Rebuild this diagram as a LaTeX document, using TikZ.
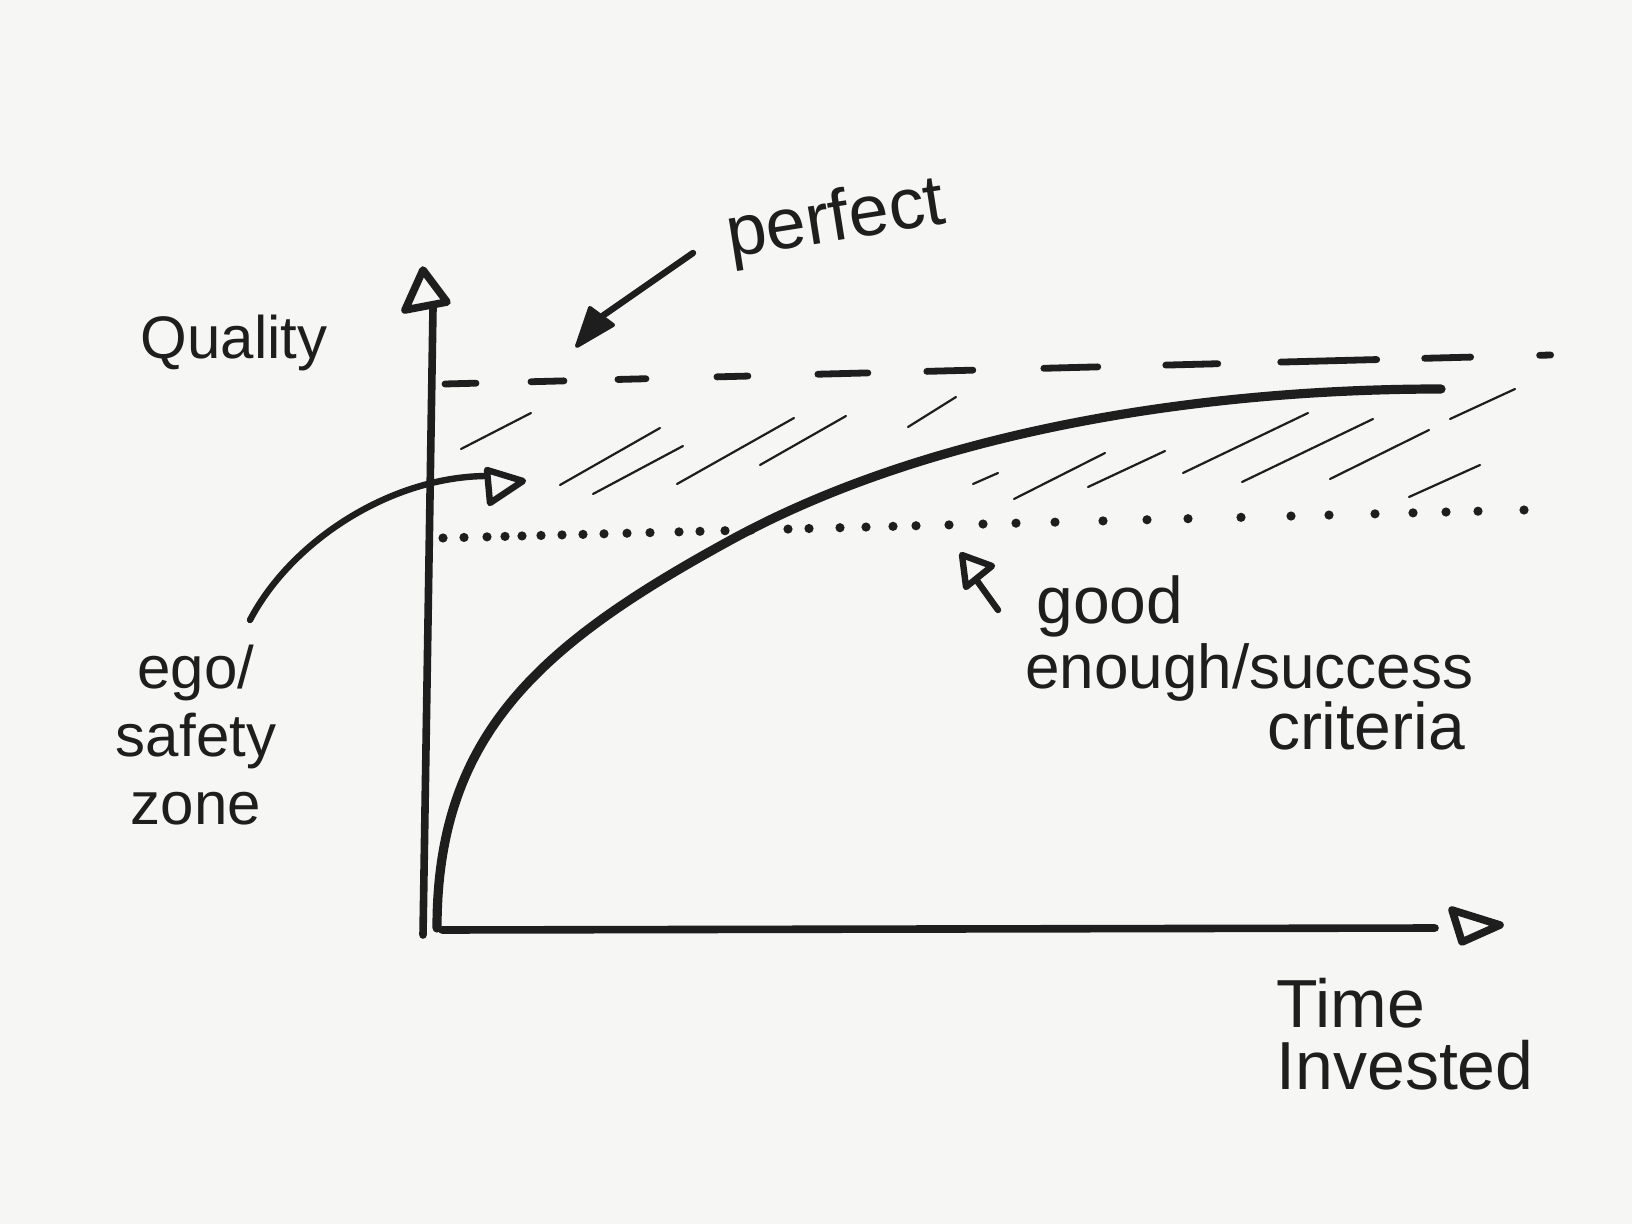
\documentclass[tikz,border=0pt]{standalone}
\usepackage{fontspec}
\setmainfont{Liberation Sans}
\usetikzlibrary{arrows.meta}
\definecolor{paper}{RGB}{246,246,245}
\definecolor{ink}{RGB}{30,30,30}
\tikzset{
  inkline/.style={draw=ink, line cap=round, line join=round},
  axisline/.style={inkline, line width=3.8pt},
  curveline/.style={inkline, line width=4.6pt},
  hatchline/.style={inkline, line width=1.1pt},
  dashline/.style={inkline, line width=3.4pt},
  arrowline/.style={inkline, line width=3.2pt},
  openhead/.style={inkline, line width=3.2pt, fill=paper},
  hand/.style={text=ink, inner sep=0pt},
}
\begin{document}
\begin{tikzpicture}[x=0.5pt, y=-0.5pt]
\useasboundingbox (0,0) rectangle (1632,1224);
\fill[paper] (0,0) rectangle (1632,1224);

% axes
\coordinate (ybot) at (423,935);
\coordinate (ytop) at (433,308);
\coordinate (xleft) at (442,930);
\coordinate (xright) at (1435,928);
\draw[axisline] (ybot) -- (ytop);
\draw[openhead, line width=3.8pt] (423,270) -- (447,302) -- (405,310) -- cycle;
\draw[axisline] (xleft) -- (xright);
\draw[openhead, line width=3.8pt] (1452,910) -- (1500,925) -- (1462,942) -- cycle;

% perfect line (dashed)
\draw[dashline, dash pattern=on 15.5pt off 27.5pt on 16.5pt off 27pt on 14pt off 35.5pt on 15.5pt off 35pt on 25pt off 29.5pt on 23pt off 35.5pt on 27pt off 34pt on 26pt off 31.5pt on 48pt off 24pt on 23pt off 34.5pt on 5.5pt off 100pt]
  (445,384) -- (1551,355);

% hatching
\foreach \a/\b/\c/\d in {461/449/531/413, 560/485/660/428, 593/494/683/446, 677/484/794/418,
  760/465/846/416, 908/427/956/397, 973/484/998/473, 1014/499/1105/453, 1088/487/1165/451,
  1183/473/1308/413, 1242/482/1373/419, 1330/479/1429/430, 1450/419/1515/389, 1409/497/1480/465}
  \draw[hatchline] (\a,\b) -- (\c,\d);

% good enough line (dotted)
\foreach \x in {443,464,487,505,522,541,562,583,604,627,650,679,700,725,751,788,809,840,866,893,916,949,983,1016,1055,1103,1147,1188,1241,1291,1329,1375,1413,1446,1478,1524}
  \fill[ink] (\x,{538-(\x-443)*0.0259}) circle[radius=2.3pt];

% main curve
\coordinate (c0) at (437,928);
\coordinate (c1) at (729,541);
\coordinate (c2) at (1441,389);
\draw[curveline] (c0) .. controls (437,735) and (539,645) .. (c1)
  .. controls (929,431) and (1200,389) .. (c2);

% labels
\node[hand, font=\fontsize{30}{34}\selectfont] (quality) at (234,343) {Quality};
\node[hand, font=\fontsize{36}{40}\selectfont, rotate=9] (perfect) at (836,222) {perfect};
\node[hand, font=\fontsize{30}{34}\selectfont, align=center] (ego) at (196,735) {ego/\\safety\\zone};
\node[hand, font=\fontsize{33}{36}\selectfont, anchor=west] (good) at (1036,606) {good};
\node[hand, font=\fontsize{31}{36}\selectfont, anchor=west] (enough) at (1025,672) {enough/success};
\node[hand, font=\fontsize{33}{36}\selectfont] (criteria) at (1366,726) {criteria};
\node[hand, font=\fontsize{34}{31}\selectfont, align=left] (time) at (1405,1034) {Time\\Invested};

% perfect arrow
\coordinate (pstart) at (693,253);
\coordinate (pend) at (601,317);
\draw[arrowline] (pstart) -- (pend);
\fill[ink, draw=ink, line width=2pt, line join=round] (577,346) -- (590,308) -- (613,325) -- cycle;

% ego arrow
\coordinate (estart) at (250,620);
\coordinate (eend) at (488,476);
\draw[arrowline] (estart) .. controls (292,540) and (392,476) .. (eend);
\draw[openhead] (487,470) -- (523,481) -- (490,503) -- cycle;

% good enough small arrow
\coordinate (gstart) at (998,610);
\coordinate (gend) at (975,578);
\draw[arrowline] (gstart) -- (gend);
\draw[openhead] (962,555) -- (992,566) -- (966,587) -- cycle;
\end{tikzpicture}
\end{document}
